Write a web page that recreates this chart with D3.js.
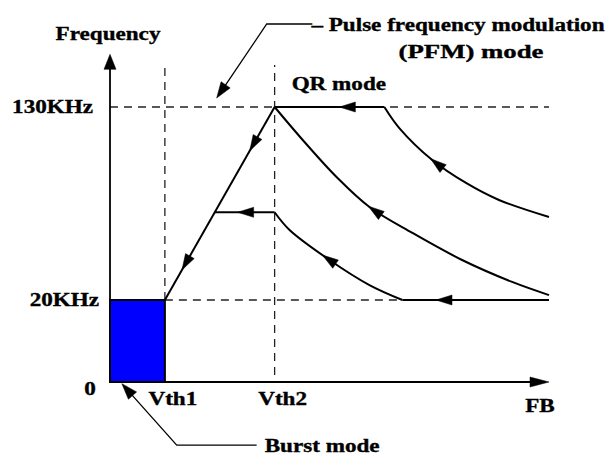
<!DOCTYPE html>
<html><head><meta charset="utf-8">
<script src="https://cdn.jsdelivr.net/npm/d3@7"></script>
<style>html,body{margin:0;padding:0;background:#fff;}svg{display:block;}</style>
</head><body>
<svg id="chart" width="612" height="457"></svg>
<script>
// ---------- data ----------
const xTickLabels = ["Vth1", "Vth2"];
const xTickValues = [12.5, 37.5];
const yTickLabels = ["0", "20KHz", "130KHz"];
const yTickValues = [0, 20, 130];
const xAxisMax = 100;
const yAxisMax = 160;
const xAxisTitle = "FB";
const yAxisTitle = "Frequency";

// burst region (FB 0..Vth1, freq 0..20kHz)
const burstRegion = [[0, 0], [12.5, 20]];
// segments in flow order
const rampLine    = [[37.5, 130], [12.5, 20]];
const qrTop       = [[62.5, 130], [37.5, 130]];
const stepLine    = [[37.5, 70], [23.9, 70]];
const lowFloor    = [[100, 20], [66.6, 20]];
const outerCurve  = [[100, 67.3], [88.6, 77.0], [81.1, 86.7], [73.4, 99.8], [65.9, 118.0], [62.5, 130]];
const middleCurve = [[100, 22.8], [91.6, 30.3], [80.2, 42.8], [68.9, 58.2], [59.1, 73.0], [51.6, 90.1], [43.9, 111.2], [37.5, 130]];
const innerCurve  = [[66.6, 20], [59.1, 28.5], [50, 42.8], [40.9, 59.9], [37.5, 70]];

// dashed guides
const guideH = [[[0, 130], [100, 130]], [[12.5, 20], [100, 20]]];
const guideV = [[[12.5, 20], [12.5, 154]], [[37.5, 1.7], [37.5, 154]]];

// arrow tips on the flow lines
const arrowTips = [
  {s: "qrTop", p: [52.3, 130]},
  {s: "stepLine", p: [29.1, 70]},
  {s: "lowFloor", p: [74.3, 20]},
  {s: "rampLine", p: [31.8, 104.9]},
  {s: "rampLine", p: [16.4, 37.2]},
  {s: "outerCurve", p: [73.2, 100.9]},
  {s: "middleCurve", p: [59.1, 74.1]},
  {s: "innerCurve", p: [48.4, 45.6]}
];

// annotation pointers
const pfmLabel = ["Pulse frequency modulation", "(PFM) mode"];
const pfmPointer = [[46.1, 177.3], [35.7, 177.3], [24.3, 135.1]];
const burstLabel = "Burst mode";
const burstPointer = [[33.4, -15.4], [15.2, -15.4], [2.7, -0.4]];
const qrLabel = "QR mode";

// ---------- drawing ----------
const svg = d3.select("#chart");
const x = d3.scaleLinear().domain([0, xAxisMax]).range([110, 549]);
const y = d3.scaleLinear().domain([0, 20, 130]).range([382, 300, 107]);

const line = d3.line().x(d => x(d[0])).y(d => y(d[1]));
const curve = d3.line().x(d => x(d[0])).y(d => y(d[1])).curve(d3.curveCatmullRom.alpha(0.5));

// guides
const g = svg.append("g");
[...guideH, ...guideV].forEach(seg => {
  g.append("path").attr("d", line(seg)).attr("fill", "none")
    .attr("stroke", "#222").attr("stroke-width", 1.3).attr("stroke-dasharray", "8,6");
});

// burst rect
svg.append("rect")
  .attr("x", x(burstRegion[0][0])).attr("y", y(burstRegion[1][1]))
  .attr("width", x(burstRegion[1][0]) - x(burstRegion[0][0]))
  .attr("height", y(burstRegion[0][1]) - y(burstRegion[1][1]))
  .attr("fill", "#0000ff").attr("stroke", "#000").attr("stroke-width", 2);

// axes
function arrowHead(tip, dir, len, hw, sw) {
  const [dx, dy] = dir; const n = Math.hypot(dx, dy); const ux = dx / n, uy = dy / n;
  const bx = tip[0] - ux * len, by = tip[1] - uy * len;
  const px = -uy * hw, py = ux * hw;
  svg.append("path")
    .attr("d", `M${tip[0]},${tip[1]}L${bx + px},${by + py}L${bx - px},${by - py}Z`)
    .attr("fill", "#000").attr("stroke", "#000").attr("stroke-width", sw || 0.5);
}
svg.append("line").attr("x1", x(0)).attr("y1", y(0)).attr("x2", x(xAxisMax) - 10).attr("y2", y(0))
  .attr("stroke", "#000").attr("stroke-width", 1.8);
arrowHead([x(xAxisMax), y(0)], [1, 0], 19, 5);
svg.append("line").attr("x1", x(0)).attr("y1", y(0)).attr("x2", x(0)).attr("y2", y(yAxisMax) + 8)
  .attr("stroke", "#000").attr("stroke-width", 1.8);
arrowHead([x(0), y(yAxisMax)], [0, -1], 15, 6);

// flow lines
const seriesMap = {rampLine, qrTop, stepLine, lowFloor, outerCurve, middleCurve, innerCurve};
const nodes = {};
Object.entries(seriesMap).forEach(([k, d]) => {
  const isCurve = k.endsWith("Curve");
  nodes[k] = svg.append("path").attr("d", (isCurve ? curve : line)(d))
    .attr("fill", "none").attr("stroke", "#000").attr("stroke-width", 2)
    .attr("stroke-linejoin", "round").node();
});

arrowTips.forEach(a => {
  const node = nodes[a.s];
  const tx = x(a.p[0]), ty = y(a.p[1]);
  const total = node.getTotalLength();
  let best = 0, bd = Infinity;
  for (let L = 0; L <= total; L += 0.5) {
    const pt = node.getPointAtLength(L);
    const dd = (pt.x - tx) ** 2 + (pt.y - ty) ** 2;
    if (dd < bd) { bd = dd; best = L; }
  }
  const p1 = node.getPointAtLength(best);
  const p0 = node.getPointAtLength(Math.max(0, best - 8));
  arrowHead([p1.x, p1.y], [p1.x - p0.x, p1.y - p0.y], 16, 5);
});

// pointers
function pointer(pts) {
  const pp = pts.map(d => [x(d[0]), y(d[1])]);
  const n = pp.length;
  const last = pp[n - 1], prev = pp[n - 2];
  const dx = last[0] - prev[0], dy = last[1] - prev[1], L = Math.hypot(dx, dy);
  const shortened = pp.slice(0, n - 1).concat([[last[0] - dx / L * 10, last[1] - dy / L * 10]]);
  svg.append("path").attr("d", d3.line()(shortened)).attr("fill", "none")
    .attr("stroke", "#000").attr("stroke-width", 1.3);
  arrowHead(last, [dx, dy], 16, 5.5);
}
pointer(pfmPointer);
pointer(burstPointer);

// text
function label(txt, px, py, anchor, fitWidth) {
  const t = svg.append("text")
    .attr("transform", `translate(${px},${py}) scale(1.25,1)`)
    .attr("text-anchor", anchor || "start")
    .attr("font-family", "'Liberation Serif','Times New Roman',serif")
    .attr("font-weight", "bold").attr("font-size", 18.5).attr("fill", "#000")
    .attr("stroke", "#000").attr("stroke-width", 0.35)
    .text(txt);
  if (fitWidth) t.attr("textLength", fitWidth / 1.25).attr("lengthAdjust", "spacingAndGlyphs");
}
const yTickDx = [-20, -11, -17];
yTickLabels.forEach((t, i) => {
  const v = yTickValues[i];
  if (v === 0) label(t, x(0) - 20, y(v) + 13, "middle");
  else label(t, x(0) + yTickDx[i], y(v) + 6, "end");
});
xTickLabels.forEach((t, i) => label(t, x(xTickValues[i]) + 8, y(0) + 23, "middle"));
label(xAxisTitle, x(xAxisMax) - 9, y(0) + 30, "middle");
label(yAxisTitle, x(0) - 2, 40, "middle");
label(qrLabel, x(37.5) + 17, 90, "start");
label("– " + pfmLabel[0], x(pfmPointer[0][0]) - 1, 31, "start");
label(pfmLabel[1], 471, 58, "middle", 145);
label(burstLabel, x(burstPointer[0][0]) + 8, 452, "start");
</script>
</body></html>
